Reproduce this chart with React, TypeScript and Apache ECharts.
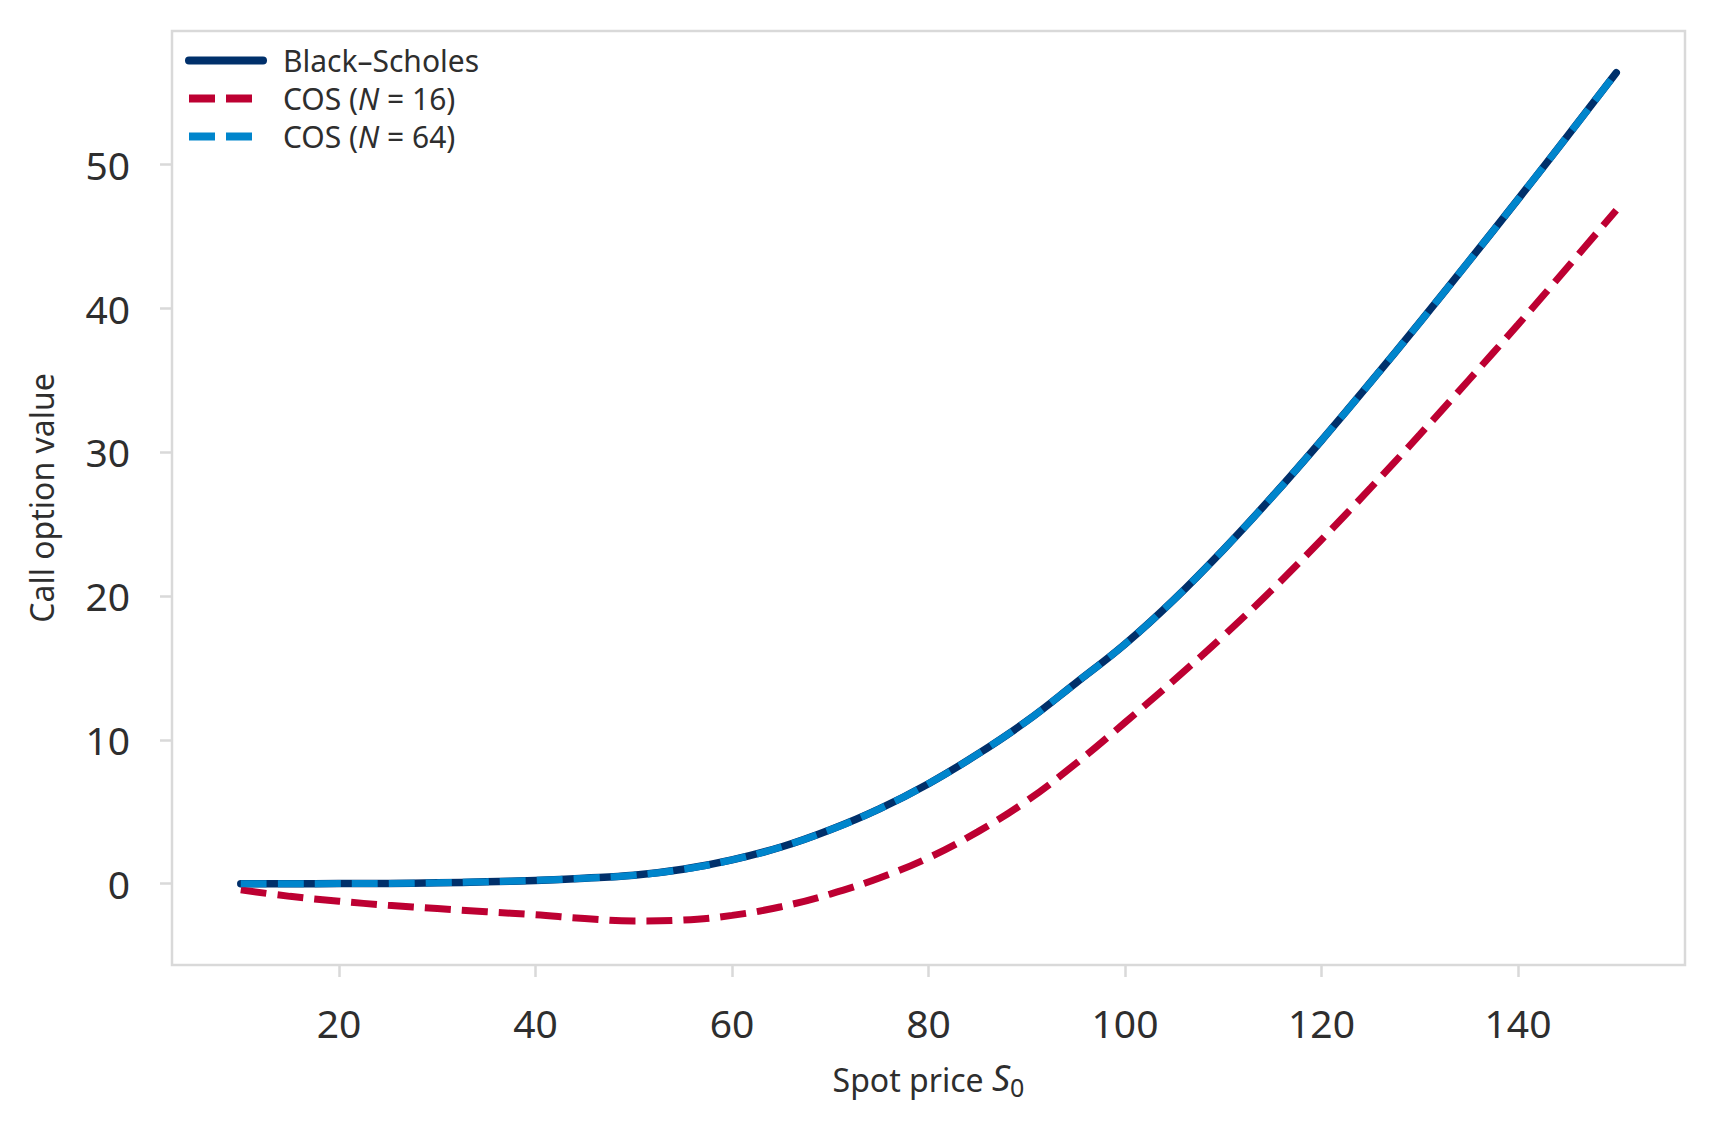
import React, { useEffect, useRef } from "react";
import * as echarts from "echarts";

const spotPrices = [10, 15, 20, 25, 30, 35, 40, 45, 50, 55, 60, 65, 70, 75, 80, 85, 90, 95, 100, 105, 110, 115, 120, 125, 130, 135, 140, 145, 150];
const blackScholes = [0.0, 0.0, 0.01, 0.02, 0.06, 0.13, 0.23, 0.38, 0.58, 1.0, 1.65, 2.55, 3.75, 5.2, 6.95, 9.0, 11.3, 13.95, 16.65, 19.75, 23.2, 26.9, 30.8, 34.85, 39.0, 43.25, 47.55, 51.92, 56.35];
const cosN16 = [-0.43, -0.88, -1.22, -1.5, -1.73, -1.95, -2.16, -2.42, -2.6, -2.53, -2.2, -1.6, -0.72, 0.4, 1.8, 3.6, 5.75, 8.35, 11.2, 14.15, 17.2, 20.45, 23.9, 27.5, 31.2, 35.0, 38.85, 42.8, 46.8];
const cosN64 = [0.0, 0.0, 0.01, 0.02, 0.06, 0.13, 0.23, 0.38, 0.58, 1.0, 1.65, 2.55, 3.75, 5.2, 6.95, 9.0, 11.3, 13.95, 16.65, 19.75, 23.2, 26.9, 30.8, 34.85, 39.0, 43.25, 47.55, 51.92, 56.35];
const xTicks = [20, 40, 60, 80, 100, 120, 140];
const yTicks = [0, 10, 20, 30, 40, 50];
const seriesNames = ["Black–Scholes", "COS (N = 16)", "COS (N = 64)"];

const FONT = "'Noto Sans', 'DejaVu Sans', sans-serif";
const GRAY = "#d9d9d9";
const TEXT = "#2e2e2e";

export default function App() {
  const ref = useRef<HTMLDivElement>(null);
  useEffect(() => {
    if (!ref.current) return;
    const chart = echarts.init(ref.current, undefined, { renderer: "svg" });
    const pairs = (vals: number[]) => spotPrices.map((s, i) => [s, vals[i]]);
    const dash = [26, 11];
    chart.setOption({
      animation: false,
      backgroundColor: "#ffffff",
      grid: {
        left: 172,
        right: 31,
        top: 31,
        bottom: 169,
        show: true,
        borderColor: GRAY,
        borderWidth: 2.5,
        outerBoundsMode: "none",
      },
      legend: {
        orient: "vertical",
        left: 185,
        top: 45,
        padding: 0,
        itemWidth: 74,
        itemHeight: 14,
        itemGap: 7,
        data: seriesNames,
        lineStyle: { width: 8 },
        itemStyle: { color: "rgba(0,0,0,0)", borderColor: "rgba(0,0,0,0)", borderWidth: 0 },
        formatter: (name: string) => name.replace("N", "{i|N}"),
        textStyle: {
          fontFamily: FONT,
          fontSize: 30,
          color: TEXT,
          lineHeight: 31,
          padding: [0, 0, 0, 15],
          rich: {
            i: { fontFamily: FONT, fontSize: 30, fontStyle: "italic", color: TEXT, lineHeight: 31 },
          },
        },
      },
      xAxis: {
        type: "value",
        min: 3,
        max: 157,
        name: "{a|Spot price }{s|S}{b|0}",
        nameLocation: "middle",
        nameGap: 94,
        nameTextStyle: {
          rich: {
            a: { fontFamily: FONT, fontSize: 32, color: TEXT, verticalAlign: "bottom", padding: [0, 0, 4, 0] },
            s: { fontFamily: FONT, fontSize: 36, fontStyle: "italic", color: TEXT, verticalAlign: "bottom", padding: [0, 0, 4, 0] },
            b: { fontFamily: FONT, fontSize: 25, color: TEXT, verticalAlign: "bottom" },
          },
        },
        axisLine: { show: false, onZero: false },
        splitLine: { show: false },
        axisTick: { show: true, length: 12, inside: false, customValues: xTicks, lineStyle: { color: GRAY, width: 2.5 } },
        axisLabel: { customValues: xTicks, margin: 38, fontFamily: FONT, fontSize: 39, color: TEXT },
      },
      yAxis: {
        type: "value",
        min: -5.65,
        max: 59.25,
        name: "Call option value",
        nameLocation: "middle",
        nameGap: 115,
        nameTextStyle: { fontFamily: FONT, fontSize: 32, color: TEXT },
        axisLine: { show: false, onZero: false },
        splitLine: { show: false },
        axisTick: { show: true, length: 12, inside: false, customValues: yTicks, lineStyle: { color: GRAY, width: 2.5 } },
        axisLabel: { customValues: yTicks, margin: 42, fontFamily: FONT, fontSize: 39, color: TEXT },
      },
      series: [
        {
          name: seriesNames[0],
          type: "line",
          data: pairs(blackScholes),
          showSymbol: false,
          symbol: "none",
          smooth: 0.4,
          z: 2,
          lineStyle: { color: "#00306b", width: 7.5, cap: "round", join: "round" },
          itemStyle: { color: "#00306b" },
        },
        {
          name: seriesNames[1],
          type: "line",
          data: pairs(cosN16),
          showSymbol: false,
          symbol: "none",
          smooth: 0.4,
          z: 3,
          lineStyle: { color: "#bd0032", width: 7, type: dash, cap: "butt" },
          itemStyle: { color: "#bd0032" },
        },
        {
          name: seriesNames[2],
          type: "line",
          data: pairs(cosN64),
          showSymbol: false,
          symbol: "none",
          smooth: 0.4,
          z: 4,
          lineStyle: { color: "#0085cc", width: 7, type: dash, cap: "butt" },
          itemStyle: { color: "#0085cc" },
        },
      ],
    });
    return () => chart.dispose();
  }, []);
  return (
    <div
      ref={ref}
      style={{ position: "fixed", left: 0, top: 0, width: 1716, height: 1134, background: "#fff" }}
    />
  );
}
